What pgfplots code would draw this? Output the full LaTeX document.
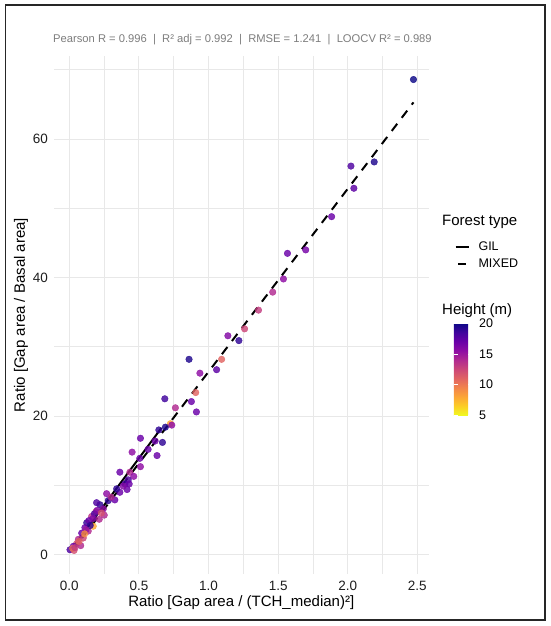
\documentclass[border=0pt]{standalone}
\usepackage{pgfplots}
\pgfplotsset{compat=1.18}
\usepackage{pgfplotstable}
\usepackage{fontspec}
\setmainfont{Liberation Sans}
\definecolor{gridc}{RGB}{232,232,232}
\definecolor{subc}{RGB}{125,125,125}
\definecolor{tickc}{RGB}{30,30,30}
\pgfplotstableread{
x y h
2.472 68.6 20
2.023 56.1 18
2.190 56.7 19.5
2.044 52.9 17.5
1.884 48.8 17
1.567 43.5 17
1.698 44.0 16.5
1.538 39.8 15.5
1.461 37.9 14
1.359 35.3 13
1.259 32.6 12.5
1.139 31.6 16
1.218 30.9 19
0.860 28.2 19.5
1.094 28.2 11
0.938 26.2 15.5
1.058 26.7 17.5
0.908 23.4 11
0.877 22.1 17
0.913 20.6 17
0.686 22.5 18.5
0.762 21.2 14
0.726 18.9 8
0.736 18.7 15.5
0.690 18.4 19.5
0.643 18.0 19
0.669 16.2 19
0.616 16.4 17
0.511 16.8 17
0.566 15.2 17
0.451 14.8 15.5
0.630 14.3 17
0.506 13.9 17
0.511 12.7 15.5
0.363 11.9 17
0.435 11.9 14
0.463 11.3 15.5
0.423 10.8 18
0.399 10.2 18.5
0.430 10.2 17
0.415 9.4 17
0.387 9.9 16
0.268 8.8 15.5
0.327 7.9 17
0.280 7.8 19
0.363 9.0 17
0.220 7.2 19
0.196 7.5 18
0.244 6.6 15.5
0.251 5.7 14
0.191 6.2 12.5
0.160 5.5 13.5
0.215 5.1 14
0.125 4.6 19
0.112 3.9 17
0.172 4.1 8
0.136 3.4 14
0.089 3.1 17
0.100 2.4 12.5
0.065 2.2 14
0.053 1.6 12
0.082 1.3 14
0.029 1.2 17
0.005 0.7 18
0.034 0.6 12
0.024 0.9 10.5
0.140 4.9 17
0.150 4.2 19
0.180 5.9 18
0.120 3.6 15
0.070 1.9 11
0.040 1.0 13
0.110 3.0 9
0.200 6.4 16
0.230 6.0 12
0.170 5.2 16
0.300 8.3 14
0.340 9.5 19
}\pts
\pgfplotsset{
  colormap={plasmar}{rgb255(0)=(240,249,33) rgb255(1)=(252,206,37) rgb255(2)=(252,166,54)
    rgb255(3)=(242,132,75) rgb255(4)=(225,100,98) rgb255(5)=(204,71,120) rgb255(6)=(177,42,144)
    rgb255(7)=(143,13,164) rgb255(8)=(106,0,168) rgb255(9)=(65,4,157) rgb255(10)=(13,8,135)},
  solidkey/.style={legend image code/.code={\draw[##1] (0pt,0pt) -- (13pt,0pt); \path (20pt,0pt);}},
  dashkey/.style={legend image code/.code={\draw[##1, solid] (2.5pt,0pt) -- (10.5pt,0pt); \path (0pt,0pt) (20pt,0pt);}},
}
\begin{document}
\begin{tikzpicture}[x=1pt,y=1pt]
\begin{axis}[
  at={(54pt,52pt)}, anchor=south west,
  scale only axis, width=374.5pt, height=518pt,
  xmin=-0.11, xmax=2.58, ymin=-2.8, ymax=72,
  axis line style={draw=none},
  xtick={0,0.5,1,1.5,2,2.5},
  xticklabels={0.0,0.5,1.0,1.5,2.0,2.5},
  ytick={0,20,40,60},
  yticklabels={0,20,40,60},
  minor xtick={0.25,0.75,1.25,1.75,2.25},
  minor ytick={10,30,50,70},
  major tick length=0pt, minor tick length=0pt,
  grid=both,
  major grid style={draw=gridc, line width=1pt},
  minor grid style={draw=gridc, line width=0.8pt},
  xticklabel style={font=\fontsize{13.5}{16}\selectfont, text=tickc, inner sep=0pt, anchor=north, yshift=-7pt},
  yticklabel style={font=\fontsize{13.5}{16}\selectfont, text=tickc, inner sep=0pt, anchor=east, xshift=-6pt},
  xlabel={Ratio [Gap area / (TCH\_median)²]},
  ylabel={Ratio [Gap area / Basal area]},
  xlabel style={font=\fontsize{15}{18}\selectfont, at={(axis description cs:0.5,-0.056)}, anchor=center},
  ylabel style={font=\fontsize{15}{18}\selectfont, at={(axis description cs:-0.088,0.5)}, anchor=center},
  colormap name=plasmar,
  point meta min=5, point meta max=20,
  colorbar,
  colorbar style={
    at={(1.068,0.484)}, anchor=north west,
    width=18pt, height=92pt,
    axis line style={draw=none},
    ytick={5,10,15,20}, yticklabels={5,10,15,20},
    tick align=inside, major tick length=3.6pt,
    ytick style={draw=white, line width=0.8pt},
    ytick pos=both, yticklabel pos=right,
    yticklabel style={font=\fontsize{12.5}{15}\selectfont, inner sep=0pt, anchor=west, xshift=7pt},
  },
  legend style={at={(1.069,0.615)}, anchor=west, draw=none, fill=none,
    font=\fontsize{12.5}{15}\selectfont, row sep=3pt, inner sep=0pt,
    nodes={inner sep=2pt}},
  legend cell align=left,
]
\addplot[scatter, only marks, mark=*, mark size=3.3pt, point meta=explicit,
  scatter/use mapped color={draw=mapped color, fill=mapped color},
  opacity=0.82, forget plot] table[x=x, y=y, meta=h] {\pts};
\addplot[black, line width=2pt, solidkey]
  coordinates {(0.012,0.7) (0.662,18.3)};
\addlegendentry{GIL}
\addplot[black, line width=2pt, dash pattern=on 9pt off 7.5pt, dashkey]
  coordinates {(0.02,0.5) (2.472,65.3)};
\addlegendentry{MIXED}
\end{axis}
\node[anchor=west, font=\fontsize{11.2}{13}\selectfont, text=subc, inner sep=0pt] at (53,586) {Pearson R = 0.996 \ | \ R² adj = 0.992 \ | \ RMSE = 1.241 \ | \ LOOCV R² = 0.989};
\node[anchor=west, font=\fontsize{15}{18}\selectfont, inner sep=0pt] at (442,404) {Forest type};
\node[anchor=west, font=\fontsize{15}{18}\selectfont, inner sep=0pt] at (442,315) {Height (m)};
\draw[line width=1.6pt, black!85] (5.5,6) rectangle (545,621);
\pgfresetboundingbox
\useasboundingbox (0,0) rectangle (550,626);
\end{tikzpicture}
\end{document}
